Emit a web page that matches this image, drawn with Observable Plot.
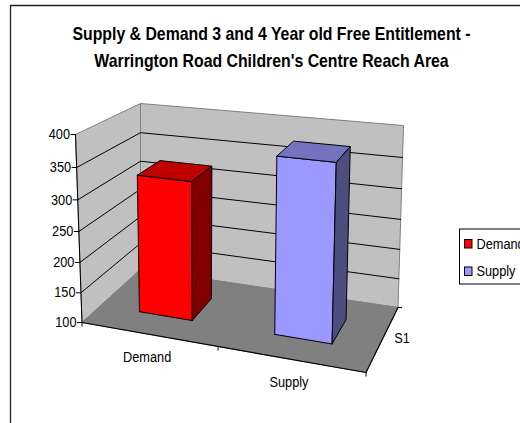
<!DOCTYPE html>
<html>
<head>
<meta charset="utf-8">
<script src="https://cdn.jsdelivr.net/npm/d3@7"></script>
<script src="https://cdn.jsdelivr.net/npm/@observablehq/plot@0.6"></script>
<style>
html,body{margin:0;padding:0;background:#fff;overflow:hidden}
svg{display:block}
</style>
</head>
<body>
<div id="chart"></div>
<script>
// Data
const titleLines = ["Supply & Demand 3 and 4 Year old Free Entitlement -", "Warrington Road Children's Centre Reach Area"];
const categories = ["Demand", "Supply"];
const values = [327, 380];
const valueTicks = [100, 150, 200, 250, 300, 350, 400];
const seriesLabel = "S1";
const frontColors = ["#ff0000", "#9999ff"];
const topColors = ["#bf0000", "#7373bf"];
const sideColors = ["#800000", "#4d4d80"];

// Oblique camera of the 3-D box: screen positions of its eight corners
const cam = {
  bottom: {fl: [81.5, 322], fr: [365.5, 372], bl: [140, 269], br: [397.5, 307]},
  top:    {fl: [75, 134],   fr: [372, 166],   bl: [140, 103], br: [403, 125]}
};
const vMin = 100, vMax = 400;
const persp = (t, a) => t * a / (1 + (a - 1) * t);
const bilerp = (c, u, d, i) =>
  (1 - d) * ((1 - u) * c.fl[i] + u * c.fr[i]) + d * ((1 - u) * c.bl[i] + u * c.br[i]);
// t: 0..1 along the categories, v: value, d: 0..1 front to back
function project(t, v, d) {
  const u = persp(t, 0.92);
  const f = persp((v - vMin) / (vMax - vMin), 0.938);
  const at = i => (1 - f) * bilerp(cam.bottom, u, d, i) + f * bilerp(cam.top, u, d, i);
  return {x: at(0), y: at(1)};
}
const poly = pts => {
  const p = pts.map(a => project(...a));
  return [...p, p[0]];
};
const face = (pts, fill, stroke = "#000", strokeWidth = 1) =>
  Plot.line(poly(pts), {x: "x", y: "y", fill, stroke, strokeWidth, strokeLinejoin: "round"});
const edge = (pts, stroke = "#000", strokeWidth = 1) =>
  Plot.line(pts.map(a => project(...a)), {x: "x", y: "y", stroke, strokeWidth});

const halfW = 0.1, dFront = 0.325, dBack = 0.71;
const slot = i => (i + 0.5) / categories.length;

function barMarks(i) {
  const x0 = slot(i) - halfW, x1 = slot(i) + halfW, v = values[i];
  return [
    face([[x0, vMin, dFront], [x1, vMin, dFront], [x1, v, dFront], [x0, v, dFront]], frontColors[i]),
    face([[x0, v, dFront], [x1, v, dFront], [x1, v, dBack], [x0, v, dBack]], topColors[i]),
    face([[x1, vMin, dFront], [x1, vMin, dBack], [x1, v, dBack], [x1, v, dFront]], sideColors[i])
  ];
}

const grid = valueTicks.filter(v => v > vMin && v < vMax);
const labelStyle = {fontSize: 14.5, fill: "#000", stroke: "none"};

const chart = Plot.plot({
  width: 520,
  height: 423,
  margin: 0,
  x: {domain: [0, 520], range: [0, 520], axis: null},
  y: {domain: [0, 423], range: [0, 423], axis: null},
  style: {fontFamily: "'Liberation Sans', Arial, sans-serif", background: "#fff", overflow: "hidden"},
  marks: [
    // chart-area border (right and bottom fall outside the picture)
    Plot.ruleY([5], {x1: 10, x2: 520, stroke: "#222", strokeWidth: 1.3}),
    Plot.ruleX([10], {y1: 5, y2: 423, stroke: "#222", strokeWidth: 1.3}),

    // title
    Plot.text(titleLines, {
      x: 271, y: (d, i) => 34 + i * 27, text: d => d,
      fontSize: 18, fontWeight: "bold", fill: "#000"
    }),

    // walls and floor
    face([[0, vMin, 1], [1, vMin, 1], [1, vMax, 1], [0, vMax, 1]], "#c0c0c0", "#808080"),
    face([[0, vMin, 0], [0, vMin, 1], [0, vMax, 1], [0, vMax, 0]], "#c0c0c0", "#808080"),
    face([[0, vMin, 0], [1, vMin, 0], [1, vMin, 1], [0, vMin, 1]], "#808080", "#808080"),

    // gridlines running along both walls
    ...grid.map(v => edge([[0, v, 0], [0, v, 1], [1, v, 1]])),

    // axis lines and ticks
    edge([[0, vMin, 0], [0, vMax, 0]]),
    edge([[0, vMin, 0], [1, vMin, 0], [1, vMin, 1]], "#000", 1.2),
    Plot.link(valueTicks.map(v => project(0, v, 0)), {
      x1: d => d.x - 5, y1: "y", x2: "x", y2: "y", stroke: "#000"
    }),
    Plot.link([0, 0.5, 1].map(t => project(t, vMin, 0)), {
      x1: "x", y1: "y", x2: "x", y2: d => d.y + 4, stroke: "#000"
    }),
    Plot.link([project(1, vMin, 1)], {
      x1: "x", y1: "y", x2: d => d.x + 4, y2: "y", stroke: "#000"
    }),

    // bars
    ...categories.flatMap((c, i) => barMarks(i)),

    // value axis labels
    Plot.text(valueTicks, {
      x: v => project(0, v, 0).x, y: v => project(0, v, 0).y, text: d => String(d),
      textAnchor: "end", dx: -5.5, ...labelStyle
    }),
    // category labels
    Plot.text(categories, {
      x: (c, i) => project(slot(i), vMin, 0).x, y: (c, i) => project(slot(i), vMin, 0).y,
      text: d => d, dx: -1.5, dy: 23, ...labelStyle
    }),
    // series label
    Plot.text([seriesLabel], {
      x: () => project(1, vMin, 0.5).x, y: () => project(1, vMin, 0.5).y,
      text: d => d, dx: 20, dy: -2, ...labelStyle
    }),

    // legend
    Plot.rect([0], {x1: 459.5, x2: 530, y1: 229, y2: 284, fill: "#fff", stroke: "#000"}),
    Plot.rect(categories, {
      x1: 464.5, x2: 472, y1: (c, i) => 239.5 + i * 27.5, y2: (c, i) => 248 + i * 27.5,
      fill: (c, i) => frontColors[i], stroke: "#000"
    }),
    Plot.text(categories, {
      x: 476, y: (c, i) => 243.5 + i * 27.5, text: d => d, textAnchor: "start", ...labelStyle
    })
  ]
});
// The reference's type is horizontally condensed
chart.querySelectorAll("text").forEach(t => {
  t.setAttribute("transform", (t.getAttribute("transform") || "") + " scale(0.88,1)");
});
document.getElementById("chart").append(chart);
</script>
</body>
</html>
